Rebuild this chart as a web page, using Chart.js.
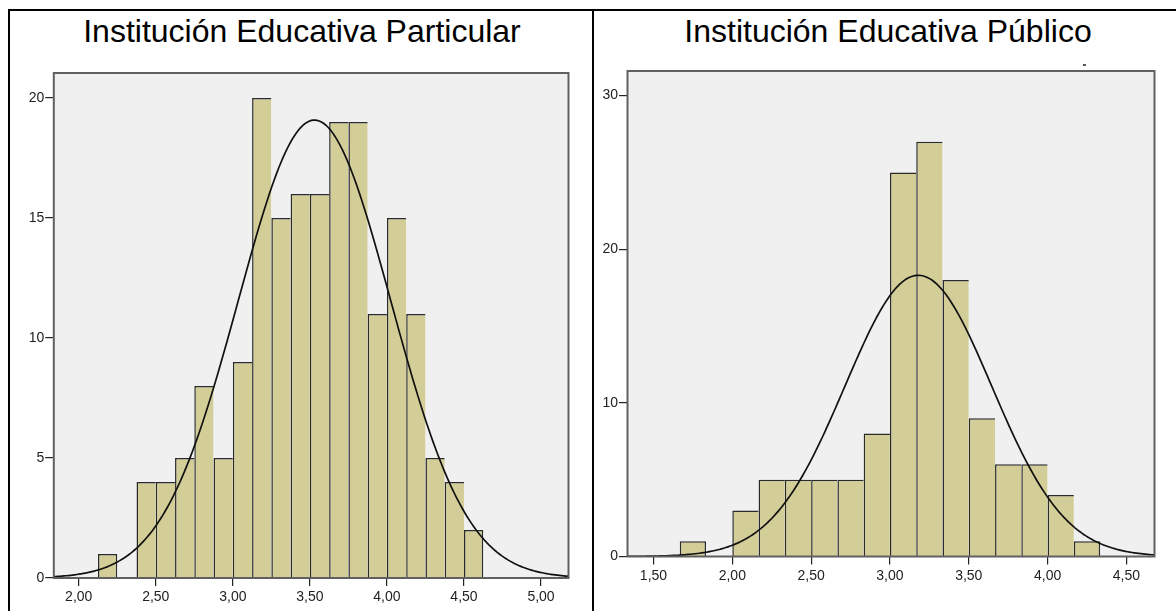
<!DOCTYPE html>
<html lang="es">
<head>
<meta charset="utf-8">
<title>Histogramas por tipo de institución</title>
<script src="https://cdn.jsdelivr.net/npm/chart.js@4.4.1/dist/chart.umd.min.js"></script>
<style>
  html, body { margin: 0; padding: 0; background: #fff; width: 1176px; height: 611px; overflow: hidden; }
  .rule { position: absolute; background: #000; }
  .title { position: absolute; top: 13px; width: 600px; text-align: center; white-space: nowrap;
           font-family: 'Liberation Sans', Arial, sans-serif; font-size: 32px; line-height: 36px; color: #000; }
  .panel { position: absolute; top: 11px; width: 582px; height: 600px; }
  .speck { position: absolute; left: 1083px; top: 64px; width: 3px; height: 2px; background: #555; }
</style>
</head>
<body>
<div class="rule" style="left:8px;top:9px;width:1168px;height:2px;"></div>
<div class="rule" style="left:8px;top:9px;width:2px;height:602px;"></div>
<div class="rule" style="left:592px;top:9px;width:2px;height:602px;"></div>

<div class="title" style="left:2px;">Institución Educativa Particular</div>
<div class="title" style="left:588px;">Institución Educativa Público</div>
<div class="speck"></div>

<canvas id="histParticular" class="panel" style="left:10px;" width="582" height="600"></canvas>
<canvas id="histPublico" class="panel" style="left:594px;" width="582" height="600"></canvas>

<script>
// ---- Institución Educativa Particular ----
const binStartParticular = [2.125, 2.25, 2.375, 2.5, 2.625, 2.75, 2.875, 3.0, 3.125, 3.25,
                            3.375, 3.5, 3.625, 3.75, 3.875, 4.0, 4.125, 4.25, 4.375, 4.5];
const countParticular    = [1, 0, 4, 4, 5, 8, 5, 9, 20, 15,
                            16, 16, 19, 19, 11, 15, 11, 5, 4, 2];
const binWidthParticular = 0.125;
const meanParticular = 3.53;
const sdParticular = 0.494;
const xTicksParticular = [2.0, 2.5, 3.0, 3.5, 4.0, 4.5, 5.0];
const yTicksParticular = [0, 5, 10, 15, 20];

// ---- Institución Educativa Público ----
const binStartPublico = [1.6667, 1.8333, 2.0, 2.1667, 2.3333, 2.5, 2.6667, 2.8333,
                         3.0, 3.1667, 3.3333, 3.5, 3.6667, 3.8333, 4.0, 4.1667];
const countPublico    = [1, 0, 3, 5, 5, 5, 5, 8,
                         25, 27, 18, 9, 6, 6, 4, 1];
const binWidthPublico = 1 / 6;
const meanPublico = 3.18;
const sdPublico = 0.465;
const xTicksPublico = [1.5, 2.0, 2.5, 3.0, 3.5, 4.0, 4.5];
const yTicksPublico = [0, 10, 20, 30];

Chart.defaults.font.family = "'Liberation Sans', Arial, sans-serif";
Chart.defaults.color = '#222';

// light grey plotting area behind the bars, grey frame on top
const plotFrame = {
  id: 'plotFrame',
  beforeDraw(chart) {
    const { ctx, chartArea: a } = chart;
    ctx.save();
    ctx.fillStyle = '#f0f0f0';
    ctx.fillRect(a.left, a.top, a.right - a.left, a.bottom - a.top);
    ctx.restore();
  },
  afterDatasetsDraw(chart) {
    const { ctx, chartArea: a } = chart;
    ctx.save();
    ctx.strokeStyle = '#606060';
    ctx.lineWidth = 2;
    ctx.strokeRect(a.left + 0.5, a.top, a.right - a.left, a.bottom - a.top);
    ctx.restore();
  }
};

function histogram(canvasId, cfg) {
  const n = cfg.counts.reduce((s, c) => s + c, 0);
  const bars = cfg.starts.map((s, i) => ({
    x: s + cfg.binWidth / 2,
    y: cfg.counts[i] > 0 ? cfg.counts[i] : null
  }));

  // fitted normal curve, scaled to counts per bin
  const scaleFactor = n * cfg.binWidth / (cfg.sd * Math.sqrt(2 * Math.PI));
  const curve = [];
  const steps = 240;
  for (let k = 0; k <= steps; k++) {
    const x = cfg.xMin + (cfg.xMax - cfg.xMin) * k / steps;
    const z = (x - cfg.mean) / cfg.sd;
    curve.push({ x, y: scaleFactor * Math.exp(-0.5 * z * z) });
  }

  // a single dark line between touching bars; closing edge where a run ends
  const borderFor = (ctx) => {
    const i = ctx.dataIndex;
    const nextFilled = i + 1 < cfg.counts.length && cfg.counts[i + 1] > 0;
    return { top: 1.5, left: 1.5, bottom: 0, right: nextFilled ? 0 : 1.5 };
  };

  return new Chart(document.getElementById(canvasId), {
    type: 'bar',
    data: {
      datasets: [
        {
          type: 'line',
          data: curve,
          borderColor: '#111',
          borderWidth: 1.7,
          pointRadius: 0,
          tension: 0,
          fill: false,
          order: 0
        },
        {
          type: 'bar',
          data: bars,
          backgroundColor: '#d3ce97',
          borderColor: '#2a2a2a',
          borderWidth: borderFor,
          borderSkipped: false,
          inflateAmount: 0,
          barPercentage: 1,
          categoryPercentage: 1,
          grouped: false,
          order: 1
        }
      ]
    },
    options: {
      responsive: false,
      animation: false,
      devicePixelRatio: 1,
      layout: { padding: { left: 0, top: cfg.padTop, right: cfg.padRight, bottom: 0 } },
      plugins: { legend: { display: false }, tooltip: { enabled: false }, title: { display: false } },
      scales: {
        x: {
          type: 'linear',
          min: cfg.xMin,
          max: cfg.xMax,
          offset: false,
          afterBuildTicks: (s) => { s.ticks = cfg.xTicks.map(v => ({ value: v })); },
          afterFit: (s) => { s.height = cfg.xAxisHeight; },
          ticks: {
            autoSkip: false,
            maxRotation: 0,
            padding: 3,
            font: { size: 14 },
            color: '#222',
            callback: (v) => Number(v).toFixed(2).replace('.', ',')
          },
          grid: { offset: false, drawOnChartArea: false, drawTicks: true, tickLength: 8, color: '#222', lineWidth: 1.2 },
          border: { display: false }
        },
        y: {
          type: 'linear',
          min: 0,
          max: cfg.yMax,
          afterBuildTicks: (s) => { s.ticks = cfg.yTicks.map(v => ({ value: v })); },
          afterFit: (s) => { s.width = cfg.yAxisWidth; },
          ticks: { padding: 1, font: { size: 14 }, color: '#222', callback: (v) => String(v) },
          grid: { drawOnChartArea: false, drawTicks: true, tickLength: 8, color: '#222', lineWidth: 1.2 },
          border: { display: false }
        }
      }
    },
    plugins: [plotFrame]
  });
}

histogram('histParticular', {
  starts: binStartParticular, counts: countParticular, binWidth: binWidthParticular,
  mean: meanParticular, sd: sdParticular,
  xMin: 1.835, xMax: 5.175, xTicks: xTicksParticular,
  yMax: 21.04, yTicks: yTicksParticular,
  yAxisWidth: 43.3, xAxisHeight: 33, padTop: 62, padRight: 24
});

histogram('histPublico', {
  starts: binStartPublico, counts: countPublico, binWidth: binWidthPublico,
  mean: meanPublico, sd: sdPublico,
  xMin: 1.332, xMax: 4.675, xTicks: xTicksPublico,
  yMax: 31.6, yTicks: yTicksPublico,
  yAxisWidth: 33, xAxisHeight: 54.5, padTop: 60, padRight: 22
});
</script>
</body>
</html>
